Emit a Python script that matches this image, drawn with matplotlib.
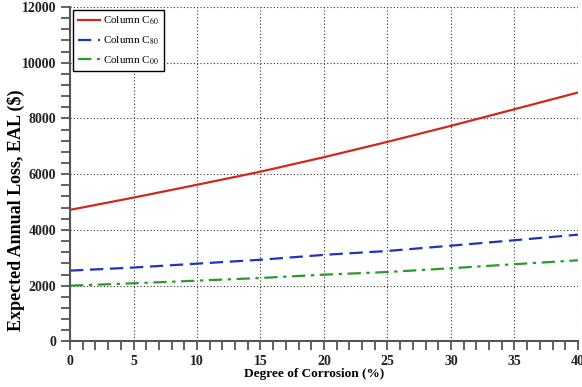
import matplotlib.pyplot as plt
from matplotlib.ticker import MultipleLocator

# Degree of corrosion (%) and EAL ($)
corrosion = [0, 5, 10, 15, 20, 25, 30, 35, 40]
eal_c60 = [4720, 5160, 5620, 6090, 6610, 7160, 7735, 8330, 8930]
eal_c80 = [2540, 2650, 2790, 2930, 3105, 3245, 3435, 3630, 3830]
eal_c00 = [2000, 2085, 2180, 2275, 2395, 2490, 2625, 2770, 2910]

plt.rcParams['font.family'] = ['Liberation Serif', 'DejaVu Serif']
plt.rcParams['mathtext.fontset'] = 'stix'

fig = plt.figure(figsize=(5.82, 3.87), dpi=100)
ax = fig.add_axes([0.1203, 0.1178, 0.8727, 0.8642])

ax.plot(corrosion, eal_c60, color='#cc2a1f', lw=1.6, label='Column C$_{60}$')
ax.plot(corrosion, eal_c80, color='#2233bb', lw=1.6, ls=(0, (6, 3)), label='Column C$_{80}$')
ax.plot(corrosion, eal_c00, color='#2a9a2a', lw=1.6, ls=(0, (6, 2.5, 1.5, 2.5)), label='Column C$_{00}$')

ax.set_xlim(0, 40)
ax.set_ylim(0, 12000)
ax.xaxis.set_major_locator(MultipleLocator(5))
ax.xaxis.set_minor_locator(MultipleLocator(1))
ax.yaxis.set_major_locator(MultipleLocator(2000))
ax.yaxis.set_minor_locator(MultipleLocator(400))

ax.grid(True, which='major', color='#333333', ls=(0, (1, 2)), lw=0.8)
for s in ['top', 'right']:
    ax.spines[s].set_visible(False)
for s in ['left', 'bottom']:
    ax.spines[s].set_color('#555555')
    ax.spines[s].set_linewidth(1.5)
ax.tick_params(which='both', direction='out', length=6.5, width=1.3, color='#555555',
               labelsize=10, labelcolor='#222222')
for lab in ax.get_xticklabels() + ax.get_yticklabels():
    lab.set_fontweight('bold')

ax.set_xlabel('Degree of Corrosion (%)', fontsize=9.5, fontweight='bold')
ax.set_ylabel('Expected Annual Loss, EAL ($)', fontsize=13, fontweight='bold')
ax.xaxis.set_label_coords(0.48, -0.08)
ax.yaxis.set_label_coords(-0.089, 0.393)

leg = ax.legend(loc='upper left', fontsize=8, fancybox=False, framealpha=1,
                edgecolor='black', handlelength=2.0, handletextpad=0.3,
                borderaxespad=0.3, labelspacing=0.65, borderpad=0.4)
leg.get_frame().set_linewidth(1.0)

fig.savefig('out.png', dpi=100)
